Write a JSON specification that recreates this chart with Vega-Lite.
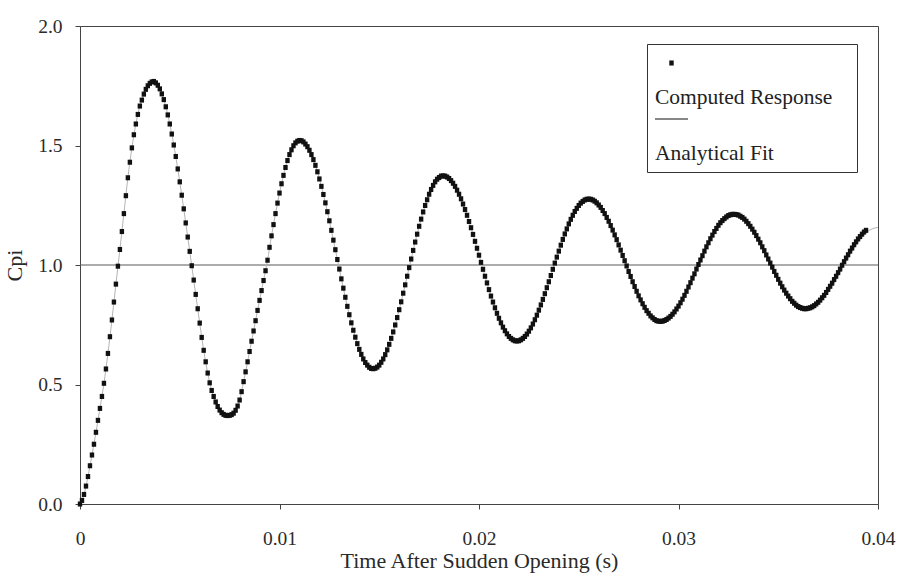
{
  "$schema": "https://vega.github.io/schema/vega-lite/v6.json",
  "width": 798,
  "height": 478,
  "autosize": {"type": "none"},
  "padding": {"left": 80, "top": 26, "right": 24, "bottom": 74},
  "background": "#ffffff",
  "config": {
    "font": "Liberation Serif",
    "view": {"stroke": "#444", "strokeWidth": 1},
    "axis": {
      "labelFont": "Liberation Serif",
      "titleFont": "Liberation Serif",
      "labelFontSize": 19.5,
      "titleFontSize": 22,
      "titleFontWeight": "normal",
      "labelColor": "#2a2a2a",
      "titleColor": "#2a2a2a",
      "domainColor": "#444",
      "tickColor": "#444",
      "grid": false,
      "tickSize": 5,
      "labelOverlap": false
    }
  },
  "datasets": {
    "computed": [
      {"t":0.0000,"v":0.000},{"t":0.0001,"v":0.015},{"t":0.0002,"v":0.040},{"t":0.0003,"v":0.075},{"t":0.0004,"v":0.115},{"t":0.0005,"v":0.160},{"t":0.0006,"v":0.205},{"t":0.0007,"v":0.250},{"t":0.0008,"v":0.300},{"t":0.0009,"v":0.350},
      {"t":0.0010,"v":0.400},{"t":0.0011,"v":0.450},{"t":0.0012,"v":0.505},{"t":0.0013,"v":0.565},{"t":0.0014,"v":0.630},{"t":0.0015,"v":0.700},{"t":0.0016,"v":0.770},{"t":0.0017,"v":0.845},{"t":0.0018,"v":0.920},{"t":0.0019,"v":0.995},
      {"t":0.0020,"v":1.065},{"t":0.0021,"v":1.140},{"t":0.0022,"v":1.215},{"t":0.0023,"v":1.290},{"t":0.0024,"v":1.365},{"t":0.0025,"v":1.430},{"t":0.0026,"v":1.490},{"t":0.0027,"v":1.545},{"t":0.0028,"v":1.590},{"t":0.0029,"v":1.630},
      {"t":0.0030,"v":1.665},{"t":0.0031,"v":1.690},{"t":0.0032,"v":1.715},{"t":0.0033,"v":1.735},{"t":0.0034,"v":1.750},{"t":0.0035,"v":1.760},{"t":0.0036,"v":1.766},{"t":0.0037,"v":1.768},{"t":0.0038,"v":1.762},{"t":0.0039,"v":1.752},
      {"t":0.0040,"v":1.737},{"t":0.0041,"v":1.716},{"t":0.0042,"v":1.692},{"t":0.0043,"v":1.662},{"t":0.0044,"v":1.628},{"t":0.0045,"v":1.590},{"t":0.0046,"v":1.548},{"t":0.0047,"v":1.502},{"t":0.0048,"v":1.454},{"t":0.0049,"v":1.402},
      {"t":0.0050,"v":1.348},{"t":0.0051,"v":1.292},{"t":0.0052,"v":1.235},{"t":0.0053,"v":1.176},{"t":0.0054,"v":1.117},{"t":0.0055,"v":1.057},{"t":0.0056,"v":0.997},{"t":0.0057,"v":0.937},{"t":0.0058,"v":0.877},{"t":0.0059,"v":0.817},
      {"t":0.0060,"v":0.757},{"t":0.0061,"v":0.697},{"t":0.0062,"v":0.643},{"t":0.0063,"v":0.595},{"t":0.0064,"v":0.548},{"t":0.0065,"v":0.507},{"t":0.0066,"v":0.475},{"t":0.0067,"v":0.450},{"t":0.0068,"v":0.427},{"t":0.0069,"v":0.408},
      {"t":0.0070,"v":0.393},{"t":0.0071,"v":0.382},{"t":0.0072,"v":0.375},{"t":0.0073,"v":0.371},{"t":0.0074,"v":0.370},{"t":0.0075,"v":0.371},{"t":0.0076,"v":0.374},{"t":0.0077,"v":0.380},{"t":0.0078,"v":0.392},{"t":0.0079,"v":0.410},
      {"t":0.0080,"v":0.435},{"t":0.0081,"v":0.470},{"t":0.0082,"v":0.512},{"t":0.0083,"v":0.553},{"t":0.0084,"v":0.595},{"t":0.0085,"v":0.638},{"t":0.0086,"v":0.681},{"t":0.0087,"v":0.724},{"t":0.0088,"v":0.767},{"t":0.0089,"v":0.810},
      {"t":0.0090,"v":0.852},{"t":0.0091,"v":0.893},{"t":0.0092,"v":0.935},{"t":0.0093,"v":0.976},{"t":0.0094,"v":1.020},{"t":0.0095,"v":1.074},{"t":0.0096,"v":1.122},{"t":0.0097,"v":1.169},{"t":0.0098,"v":1.215},{"t":0.0099,"v":1.259},
      {"t":0.0100,"v":1.301},{"t":0.0101,"v":1.340},{"t":0.0102,"v":1.375},{"t":0.0103,"v":1.408},{"t":0.0104,"v":1.437},{"t":0.0105,"v":1.462},{"t":0.0106,"v":1.482},{"t":0.0107,"v":1.499},{"t":0.0108,"v":1.511},{"t":0.0109,"v":1.518},
      {"t":0.0110,"v":1.521},{"t":0.0111,"v":1.520},{"t":0.0112,"v":1.515},{"t":0.0113,"v":1.506},{"t":0.0114,"v":1.495},{"t":0.0115,"v":1.480},{"t":0.0116,"v":1.462},{"t":0.0117,"v":1.441},{"t":0.0118,"v":1.417},{"t":0.0119,"v":1.390},
      {"t":0.0120,"v":1.360},{"t":0.0121,"v":1.329},{"t":0.0122,"v":1.295},{"t":0.0123,"v":1.260},{"t":0.0124,"v":1.223},{"t":0.0125,"v":1.185},{"t":0.0126,"v":1.145},{"t":0.0127,"v":1.104},{"t":0.0128,"v":1.064},{"t":0.0129,"v":1.023},
      {"t":0.0130,"v":0.983},{"t":0.0131,"v":0.942},{"t":0.0132,"v":0.903},{"t":0.0133,"v":0.865},{"t":0.0134,"v":0.827},{"t":0.0135,"v":0.792},{"t":0.0136,"v":0.758},{"t":0.0137,"v":0.727},{"t":0.0138,"v":0.698},{"t":0.0139,"v":0.671},
      {"t":0.0140,"v":0.647},{"t":0.0141,"v":0.626},{"t":0.0142,"v":0.607},{"t":0.0143,"v":0.592},{"t":0.0144,"v":0.581},{"t":0.0145,"v":0.572},{"t":0.0146,"v":0.567},{"t":0.0147,"v":0.566},{"t":0.0148,"v":0.568},{"t":0.0149,"v":0.573},
      {"t":0.0150,"v":0.581},{"t":0.0151,"v":0.593},{"t":0.0152,"v":0.607},{"t":0.0153,"v":0.625},{"t":0.0154,"v":0.645},{"t":0.0155,"v":0.668},{"t":0.0156,"v":0.693},{"t":0.0157,"v":0.720},{"t":0.0158,"v":0.749},{"t":0.0159,"v":0.780},
      {"t":0.0160,"v":0.813},{"t":0.0161,"v":0.846},{"t":0.0162,"v":0.882},{"t":0.0163,"v":0.917},{"t":0.0164,"v":0.953},{"t":0.0165,"v":0.989},{"t":0.0166,"v":1.025},{"t":0.0167,"v":1.061},{"t":0.0168,"v":1.096},{"t":0.0169,"v":1.129},
      {"t":0.0170,"v":1.162},{"t":0.0171,"v":1.192},{"t":0.0172,"v":1.222},{"t":0.0173,"v":1.249},{"t":0.0174,"v":1.273},{"t":0.0175,"v":1.296},{"t":0.0176,"v":1.316},{"t":0.0177,"v":1.333},{"t":0.0178,"v":1.348},{"t":0.0179,"v":1.359},
      {"t":0.0180,"v":1.366},{"t":0.0181,"v":1.372},{"t":0.0182,"v":1.373},{"t":0.0183,"v":1.372},{"t":0.0184,"v":1.368},{"t":0.0185,"v":1.362},{"t":0.0186,"v":1.353},{"t":0.0187,"v":1.342},{"t":0.0188,"v":1.329},{"t":0.0189,"v":1.313},
      {"t":0.0190,"v":1.296},{"t":0.0191,"v":1.277},{"t":0.0192,"v":1.255},{"t":0.0193,"v":1.232},{"t":0.0194,"v":1.208},{"t":0.0195,"v":1.182},{"t":0.0196,"v":1.156},{"t":0.0197,"v":1.128},{"t":0.0198,"v":1.099},{"t":0.0199,"v":1.070},
      {"t":0.0200,"v":1.041},{"t":0.0201,"v":1.011},{"t":0.0202,"v":0.982},{"t":0.0203,"v":0.953},{"t":0.0204,"v":0.925},{"t":0.0205,"v":0.897},{"t":0.0206,"v":0.870},{"t":0.0207,"v":0.845},{"t":0.0208,"v":0.821},{"t":0.0209,"v":0.798},
      {"t":0.0210,"v":0.777},{"t":0.0211,"v":0.758},{"t":0.0212,"v":0.740},{"t":0.0213,"v":0.725},{"t":0.0214,"v":0.712},{"t":0.0215,"v":0.701},{"t":0.0216,"v":0.693},{"t":0.0217,"v":0.687},{"t":0.0218,"v":0.683},{"t":0.0219,"v":0.682},
      {"t":0.0220,"v":0.683},{"t":0.0221,"v":0.687},{"t":0.0222,"v":0.693},{"t":0.0223,"v":0.701},{"t":0.0224,"v":0.711},{"t":0.0225,"v":0.723},{"t":0.0226,"v":0.737},{"t":0.0227,"v":0.753},{"t":0.0228,"v":0.771},{"t":0.0229,"v":0.790},
      {"t":0.0230,"v":0.811},{"t":0.0231,"v":0.833},{"t":0.0232,"v":0.856},{"t":0.0233,"v":0.880},{"t":0.0234,"v":0.905},{"t":0.0235,"v":0.930},{"t":0.0236,"v":0.956},{"t":0.0237,"v":0.982},{"t":0.0238,"v":1.008},{"t":0.0239,"v":1.033},
      {"t":0.0240,"v":1.058},{"t":0.0241,"v":1.083},{"t":0.0242,"v":1.107},{"t":0.0243,"v":1.130},{"t":0.0244,"v":1.151},{"t":0.0245,"v":1.172},{"t":0.0246,"v":1.191},{"t":0.0247,"v":1.208},{"t":0.0248,"v":1.224},{"t":0.0249,"v":1.237},
      {"t":0.0250,"v":1.249},{"t":0.0251,"v":1.259},{"t":0.0252,"v":1.266},{"t":0.0253,"v":1.272},{"t":0.0254,"v":1.275},{"t":0.0255,"v":1.276},{"t":0.0256,"v":1.275},{"t":0.0257,"v":1.272},{"t":0.0258,"v":1.267},{"t":0.0259,"v":1.260},
      {"t":0.0260,"v":1.251},{"t":0.0261,"v":1.241},{"t":0.0262,"v":1.228},{"t":0.0263,"v":1.215},{"t":0.0264,"v":1.199},{"t":0.0265,"v":1.183},{"t":0.0266,"v":1.165},{"t":0.0267,"v":1.146},{"t":0.0268,"v":1.126},{"t":0.0269,"v":1.106},
      {"t":0.0270,"v":1.084},{"t":0.0271,"v":1.062},{"t":0.0272,"v":1.040},{"t":0.0273,"v":1.018},{"t":0.0274,"v":0.996},{"t":0.0275,"v":0.973},{"t":0.0276,"v":0.952},{"t":0.0277,"v":0.930},{"t":0.0278,"v":0.910},{"t":0.0279,"v":0.890},
      {"t":0.0280,"v":0.871},{"t":0.0281,"v":0.854},{"t":0.0282,"v":0.838},{"t":0.0283,"v":0.823},{"t":0.0284,"v":0.809},{"t":0.0285,"v":0.798},{"t":0.0286,"v":0.787},{"t":0.0287,"v":0.779},{"t":0.0288,"v":0.772},{"t":0.0289,"v":0.767},
      {"t":0.0290,"v":0.765},{"t":0.0291,"v":0.764},{"t":0.0292,"v":0.765},{"t":0.0293,"v":0.768},{"t":0.0294,"v":0.772},{"t":0.0295,"v":0.778},{"t":0.0296,"v":0.785},{"t":0.0297,"v":0.794},{"t":0.0298,"v":0.804},{"t":0.0299,"v":0.816},
      {"t":0.0300,"v":0.828},{"t":0.0301,"v":0.842},{"t":0.0302,"v":0.857},{"t":0.0303,"v":0.873},{"t":0.0304,"v":0.890},{"t":0.0305,"v":0.908},{"t":0.0306,"v":0.926},{"t":0.0307,"v":0.945},{"t":0.0308,"v":0.963},{"t":0.0309,"v":0.983},
      {"t":0.0310,"v":1.002},{"t":0.0311,"v":1.021},{"t":0.0312,"v":1.039},{"t":0.0313,"v":1.058},{"t":0.0314,"v":1.076},{"t":0.0315,"v":1.093},{"t":0.0316,"v":1.110},{"t":0.0317,"v":1.125},{"t":0.0318,"v":1.140},{"t":0.0319,"v":1.153},
      {"t":0.0320,"v":1.166},{"t":0.0321,"v":1.177},{"t":0.0322,"v":1.186},{"t":0.0323,"v":1.194},{"t":0.0324,"v":1.201},{"t":0.0325,"v":1.207},{"t":0.0326,"v":1.210},{"t":0.0327,"v":1.212},{"t":0.0328,"v":1.212},{"t":0.0329,"v":1.211},
      {"t":0.0330,"v":1.209},{"t":0.0331,"v":1.204},{"t":0.0332,"v":1.199},{"t":0.0333,"v":1.192},{"t":0.0334,"v":1.183},{"t":0.0335,"v":1.173},{"t":0.0336,"v":1.162},{"t":0.0337,"v":1.150},{"t":0.0338,"v":1.137},{"t":0.0339,"v":1.123},
      {"t":0.0340,"v":1.108},{"t":0.0341,"v":1.093},{"t":0.0342,"v":1.076},{"t":0.0343,"v":1.060},{"t":0.0344,"v":1.042},{"t":0.0345,"v":1.025},{"t":0.0346,"v":1.008},{"t":0.0347,"v":0.991},{"t":0.0348,"v":0.973},{"t":0.0349,"v":0.957},
      {"t":0.0350,"v":0.940},{"t":0.0351,"v":0.924},{"t":0.0352,"v":0.909},{"t":0.0353,"v":0.895},{"t":0.0354,"v":0.882},{"t":0.0355,"v":0.870},{"t":0.0356,"v":0.859},{"t":0.0357,"v":0.848},{"t":0.0358,"v":0.840},{"t":0.0359,"v":0.832},
      {"t":0.0360,"v":0.826},{"t":0.0361,"v":0.822},{"t":0.0362,"v":0.819},{"t":0.0363,"v":0.817},{"t":0.0364,"v":0.817},{"t":0.0365,"v":0.819},{"t":0.0366,"v":0.821},{"t":0.0367,"v":0.825},{"t":0.0368,"v":0.830},{"t":0.0369,"v":0.837},
      {"t":0.0370,"v":0.844},{"t":0.0371,"v":0.853},{"t":0.0372,"v":0.863},{"t":0.0373,"v":0.873},{"t":0.0374,"v":0.885},{"t":0.0375,"v":0.898},{"t":0.0376,"v":0.911},{"t":0.0377,"v":0.924},{"t":0.0378,"v":0.939},{"t":0.0379,"v":0.953},
      {"t":0.0380,"v":0.968},{"t":0.0381,"v":0.983},{"t":0.0382,"v":0.999},{"t":0.0383,"v":1.014},{"t":0.0384,"v":1.029},{"t":0.0385,"v":1.043},{"t":0.0386,"v":1.058},{"t":0.0387,"v":1.071},{"t":0.0388,"v":1.085},{"t":0.0389,"v":1.097},
      {"t":0.0390,"v":1.109},{"t":0.0391,"v":1.119},{"t":0.0392,"v":1.129},{"t":0.0393,"v":1.138},{"t":0.0394,"v":1.145}
    ],
    "fit": [
      {"t":0.0000,"v":0.000},{"t":0.0002,"v":0.040},{"t":0.0004,"v":0.115},{"t":0.0006,"v":0.205},{"t":0.0008,"v":0.300},{"t":0.0010,"v":0.400},{"t":0.0012,"v":0.505},{"t":0.0014,"v":0.630},{"t":0.0016,"v":0.770},{"t":0.0018,"v":0.920},
      {"t":0.0020,"v":1.065},{"t":0.0022,"v":1.215},{"t":0.0024,"v":1.365},{"t":0.0026,"v":1.490},{"t":0.0028,"v":1.590},{"t":0.0030,"v":1.665},{"t":0.0032,"v":1.715},{"t":0.0034,"v":1.750},{"t":0.0036,"v":1.766},{"t":0.0038,"v":1.762},
      {"t":0.0040,"v":1.737},{"t":0.0042,"v":1.692},{"t":0.0044,"v":1.628},{"t":0.0046,"v":1.548},{"t":0.0048,"v":1.454},{"t":0.0050,"v":1.348},{"t":0.0052,"v":1.235},{"t":0.0054,"v":1.117},{"t":0.0056,"v":0.997},{"t":0.0058,"v":0.877},
      {"t":0.0060,"v":0.757},{"t":0.0062,"v":0.643},{"t":0.0064,"v":0.548},{"t":0.0066,"v":0.475},{"t":0.0068,"v":0.427},{"t":0.0070,"v":0.393},{"t":0.0072,"v":0.375},{"t":0.0074,"v":0.370},{"t":0.0076,"v":0.374},{"t":0.0078,"v":0.392},
      {"t":0.0080,"v":0.435},{"t":0.0082,"v":0.512},{"t":0.0084,"v":0.595},{"t":0.0086,"v":0.681},{"t":0.0088,"v":0.767},{"t":0.0090,"v":0.852},{"t":0.0092,"v":0.935},{"t":0.0094,"v":1.020},{"t":0.0096,"v":1.122},{"t":0.0098,"v":1.215},
      {"t":0.0100,"v":1.301},{"t":0.0102,"v":1.375},{"t":0.0104,"v":1.437},{"t":0.0106,"v":1.482},{"t":0.0108,"v":1.511},{"t":0.0110,"v":1.521},{"t":0.0112,"v":1.515},{"t":0.0114,"v":1.495},{"t":0.0116,"v":1.462},{"t":0.0118,"v":1.417},
      {"t":0.0120,"v":1.360},{"t":0.0122,"v":1.295},{"t":0.0124,"v":1.223},{"t":0.0126,"v":1.145},{"t":0.0128,"v":1.064},{"t":0.0130,"v":0.983},{"t":0.0132,"v":0.903},{"t":0.0134,"v":0.827},{"t":0.0136,"v":0.758},{"t":0.0138,"v":0.698},
      {"t":0.0140,"v":0.647},{"t":0.0142,"v":0.607},{"t":0.0144,"v":0.581},{"t":0.0146,"v":0.567},{"t":0.0148,"v":0.568},{"t":0.0150,"v":0.581},{"t":0.0152,"v":0.607},{"t":0.0154,"v":0.645},{"t":0.0156,"v":0.693},{"t":0.0158,"v":0.749},
      {"t":0.0160,"v":0.813},{"t":0.0162,"v":0.882},{"t":0.0164,"v":0.953},{"t":0.0166,"v":1.025},{"t":0.0168,"v":1.096},{"t":0.0170,"v":1.162},{"t":0.0172,"v":1.222},{"t":0.0174,"v":1.273},{"t":0.0176,"v":1.316},{"t":0.0178,"v":1.348},
      {"t":0.0180,"v":1.366},{"t":0.0182,"v":1.373},{"t":0.0184,"v":1.368},{"t":0.0186,"v":1.353},{"t":0.0188,"v":1.329},{"t":0.0190,"v":1.296},{"t":0.0192,"v":1.255},{"t":0.0194,"v":1.208},{"t":0.0196,"v":1.156},{"t":0.0198,"v":1.099},
      {"t":0.0200,"v":1.041},{"t":0.0202,"v":0.982},{"t":0.0204,"v":0.925},{"t":0.0206,"v":0.870},{"t":0.0208,"v":0.821},{"t":0.0210,"v":0.777},{"t":0.0212,"v":0.740},{"t":0.0214,"v":0.712},{"t":0.0216,"v":0.693},{"t":0.0218,"v":0.683},
      {"t":0.0220,"v":0.683},{"t":0.0222,"v":0.693},{"t":0.0224,"v":0.711},{"t":0.0226,"v":0.737},{"t":0.0228,"v":0.771},{"t":0.0230,"v":0.811},{"t":0.0232,"v":0.856},{"t":0.0234,"v":0.905},{"t":0.0236,"v":0.956},{"t":0.0238,"v":1.008},
      {"t":0.0240,"v":1.058},{"t":0.0242,"v":1.107},{"t":0.0244,"v":1.151},{"t":0.0246,"v":1.191},{"t":0.0248,"v":1.224},{"t":0.0250,"v":1.249},{"t":0.0252,"v":1.266},{"t":0.0254,"v":1.275},{"t":0.0256,"v":1.275},{"t":0.0258,"v":1.267},
      {"t":0.0260,"v":1.251},{"t":0.0262,"v":1.228},{"t":0.0264,"v":1.199},{"t":0.0266,"v":1.165},{"t":0.0268,"v":1.126},{"t":0.0270,"v":1.084},{"t":0.0272,"v":1.040},{"t":0.0274,"v":0.996},{"t":0.0276,"v":0.952},{"t":0.0278,"v":0.910},
      {"t":0.0280,"v":0.871},{"t":0.0282,"v":0.838},{"t":0.0284,"v":0.809},{"t":0.0286,"v":0.787},{"t":0.0288,"v":0.772},{"t":0.0290,"v":0.765},{"t":0.0292,"v":0.765},{"t":0.0294,"v":0.772},{"t":0.0296,"v":0.785},{"t":0.0298,"v":0.804},
      {"t":0.0300,"v":0.828},{"t":0.0302,"v":0.857},{"t":0.0304,"v":0.890},{"t":0.0306,"v":0.926},{"t":0.0308,"v":0.963},{"t":0.0310,"v":1.002},{"t":0.0312,"v":1.039},{"t":0.0314,"v":1.076},{"t":0.0316,"v":1.110},{"t":0.0318,"v":1.140},
      {"t":0.0320,"v":1.166},{"t":0.0322,"v":1.186},{"t":0.0324,"v":1.201},{"t":0.0326,"v":1.210},{"t":0.0328,"v":1.212},{"t":0.0330,"v":1.209},{"t":0.0332,"v":1.199},{"t":0.0334,"v":1.183},{"t":0.0336,"v":1.162},{"t":0.0338,"v":1.137},
      {"t":0.0340,"v":1.108},{"t":0.0342,"v":1.076},{"t":0.0344,"v":1.042},{"t":0.0346,"v":1.008},{"t":0.0348,"v":0.973},{"t":0.0350,"v":0.940},{"t":0.0352,"v":0.909},{"t":0.0354,"v":0.882},{"t":0.0356,"v":0.859},{"t":0.0358,"v":0.840},
      {"t":0.0360,"v":0.826},{"t":0.0362,"v":0.819},{"t":0.0364,"v":0.817},{"t":0.0366,"v":0.819},{"t":0.0368,"v":0.826},{"t":0.0370,"v":0.838},{"t":0.0372,"v":0.854},{"t":0.0374,"v":0.874},{"t":0.0376,"v":0.898},{"t":0.0378,"v":0.925},
      {"t":0.0380,"v":0.955},{"t":0.0382,"v":0.985},{"t":0.0384,"v":1.015},{"t":0.0386,"v":1.044},{"t":0.0388,"v":1.071},{"t":0.0390,"v":1.096},{"t":0.0392,"v":1.118},{"t":0.0394,"v":1.135},{"t":0.0396,"v":1.147},{"t":0.0398,"v":1.154},
      {"t":0.0400,"v":1.157}
    ]
  },
  "encoding": {
    "x": {
      "field": "t",
      "type": "quantitative",
      "scale": {"domain": [0, 0.04], "nice": false, "zero": false},
      "axis": {
        "title": "Time After Sudden Opening (s)",
        "values": [0, 0.01, 0.02, 0.03, 0.04],
        "labelExpr": "datum.value == 0 ? '0' : format(datum.value, '.2f')",
        "labelPadding": 20,
        "titlePadding": 3,
        "labelFlush": false
      }
    },
    "y": {
      "field": "v",
      "type": "quantitative",
      "scale": {"domain": [0, 2], "nice": false},
      "axis": {
        "title": "Cpi",
        "values": [0, 0.5, 1, 1.5, 2],
        "format": ".1f",
        "labelPadding": 13,
        "titlePadding": 11
      }
    }
  },
  "layer": [
    {
      "data": {"values": [{"ref": 1}]},
      "mark": {"type": "rule", "color": "#5a5a5a", "strokeWidth": 1.2},
      "encoding": {"x": null, "y": {"field": "ref", "type": "quantitative"}}
    },
    {
      "data": {"name": "fit"},
      "mark": {"type": "line", "color": "#b5b5b5", "strokeWidth": 1, "interpolate": "monotone"},
      "encoding": {}
    },
    {
      "data": {"name": "computed"},
      "mark": {"type": "point", "filled": true, "color": "#111", "opacity": 1, "size": 484, "strokeWidth": 0},
      "encoding": {
        "shape": {
          "datum": "Computed Response",
          "type": "nominal",
          "scale": {
            "domain": ["Computed Response", "Analytical Fit"],
            "range": ["M-0.2,-0.23H0.2V0.23H-0.2Z", "M-1.5,-0.05H1.5V0.05H-1.5Z"]
          },
          "legend": {
            "title": null,
            "orient": "none",
            "legendX": 567,
            "legendY": 18,
            "padding": 8,
            "strokeColor": "#333",
            "fillColor": "#ffffff",
            "symbolSize": 484,
            "symbolOffset": 5.5,
            "symbolFillColor": "#222",
            "symbolStrokeWidth": 0,
            "labelFont": "Liberation Serif",
            "labelFontSize": 21.5,
            "labelColor": "#222",
            "labelLimit": 400,
            "labelExpr": "['', datum.label + '\u2800']",
            "labelBaseline": "top",
            "labelOffset": -27.5,
            "rowPadding": 0
          }
        }
      }
    }
  ]
}
